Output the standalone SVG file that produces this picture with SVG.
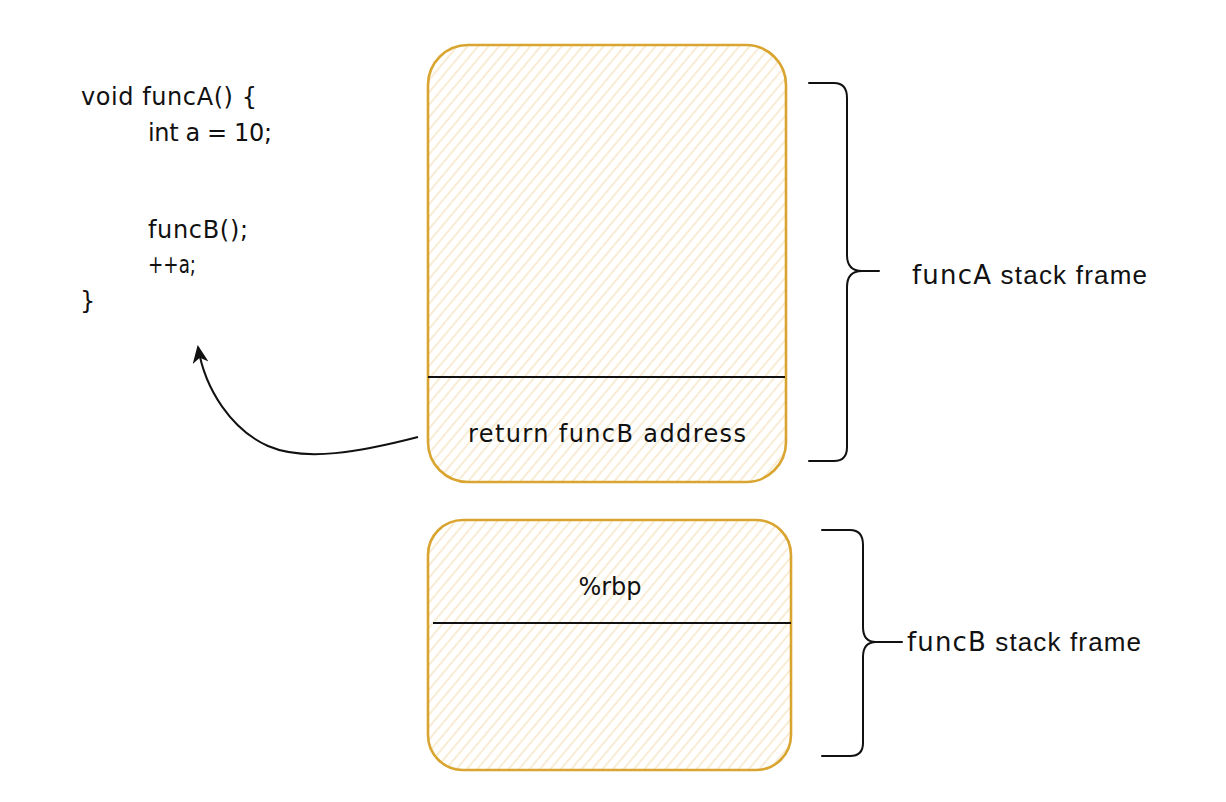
<svg xmlns="http://www.w3.org/2000/svg" width="1226" height="802" viewBox="0 0 1226 802">
  <defs>
    <pattern id="hatch" width="8" height="8" patternUnits="userSpaceOnUse" patternTransform="rotate(40)">
      <line x1="4" y1="0" x2="4" y2="8" stroke="#f5e4bd" stroke-width="1.3"/>
    </pattern>
    <marker id="arrow" viewBox="0 0 18 16" refX="16" refY="8" markerWidth="18" markerHeight="16" markerUnits="userSpaceOnUse" orient="auto">
      <path d="M0,0 L18,8 L0,16 L5,8 Z" fill="#111"/>
    </marker>
  </defs>
  <style>
    .box { fill: url(#hatch); stroke: #d9a530; stroke-width: 2.6; }
    .div { stroke: #111; stroke-width: 2; fill: none; }
    .brace { stroke: #111; stroke-width: 2; fill: none; stroke-linecap: round; stroke-linejoin: round; }
    .comic { font-family: "DejaVu Sans", "Noto Sans", sans-serif; font-size: 24px; fill: #111; }
    .label { font-family: "Liberation Sans", Arial, sans-serif; font-size: 26px; fill: #111; }
    .lab-c { font-family: "DejaVu Sans", sans-serif; }
  </style>
  <rect width="1226" height="802" fill="#ffffff"/>

  <g id="code">
    <text class="comic" x="81" y="105" textLength="176">void funcA() {</text>
    <text class="comic" x="148" y="141" textLength="124">int a = 10;</text>
    <text class="comic" x="148" y="238" textLength="100">funcB();</text>
    <text class="comic" x="148" y="273" textLength="48" lengthAdjust="spacingAndGlyphs">++a;</text>
    <text class="comic" x="80" y="309">}</text>
  </g>

  <g id="frameA">
    <rect class="box" x="428" y="45" width="358" height="437" rx="40" ry="40"/>
    <line class="div" x1="428" y1="377" x2="785" y2="377"/>
    <text class="comic" x="607" y="442" text-anchor="middle" font-size="25" textLength="278">return funcB address</text>
  </g>

  <g id="frameB">
    <rect class="box" x="428" y="520" width="363" height="250" rx="35" ry="35"/>
    <line class="div" x1="433" y1="623" x2="791" y2="623"/>
    <text class="comic" x="610" y="595" text-anchor="middle" font-size="25">%rbp</text>
  </g>

  <g id="braceA">
    <path class="brace" d="M809,83 L834,83 Q847,83 847,98 L847,255 Q847,271 862,271 L879,271 M862,271 Q847,271 847,287 L847,447 Q847,461 834,461 L809,461"/>
    <text class="label" x="912" y="284" textLength="235"><tspan class="lab-c">funcA</tspan> stack frame</text>
  </g>

  <g id="braceB">
    <path class="brace" d="M822,530 L850,530 Q863,530 863,545 L863,627 Q863,642 876,642 L902,642 M876,642 Q863,642 863,657 L863,743 Q863,756 850,756 L822,756"/>
    <text class="label" x="907" y="651" textLength="234"><tspan class="lab-c">funcB</tspan> stack frame</text>
  </g>

  <g id="connectors">
    <path d="M418,437 C360,452 305,462 268,446 C232,430 205,390 198,347" fill="none" stroke="#111" stroke-width="2" marker-end="url(#arrow)"/>
  </g>
</svg>
